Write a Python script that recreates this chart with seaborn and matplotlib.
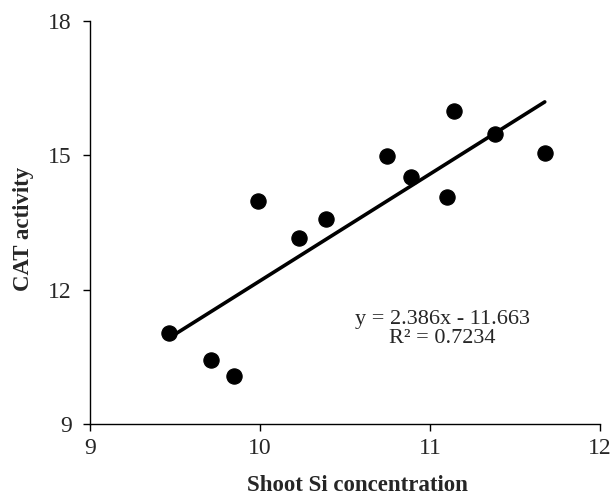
import numpy as np
import pandas as pd
import matplotlib
matplotlib.use('Agg')
import matplotlib.pyplot as plt
import seaborn as sns

# data
shoot_si = [9.465, 9.71, 9.85, 9.99, 10.23, 10.39, 10.745, 10.89, 11.10, 11.14, 11.38, 11.675]
cat_act = [11.03, 10.43, 10.08, 13.99, 13.15, 13.57, 14.99, 14.52, 14.08, 16.00, 15.47, 15.05]
slope, intercept, r2 = 2.386, -11.663, 0.7234
x_ticks = [9, 10, 11, 12]
y_ticks = [9, 12, 15, 18]

df = pd.DataFrame({'si': shoot_si, 'cat': cat_act})

sns.set_style('ticks')
plt.rcParams['font.family'] = ['Liberation Serif', 'DejaVu Serif']

fig = plt.figure(figsize=(6.13, 4.98), dpi=100)
ax = fig.add_axes([0.1468, 0.1486, 0.832, 0.8092])

# trend line from the reported equation, over the data range
line_x = np.array([min(shoot_si), max(shoot_si)])
sns.lineplot(x=line_x, y=slope * line_x + intercept, ax=ax, color='black', lw=2.6)
sns.scatterplot(data=df, x='si', y='cat', ax=ax, color='black', s=120, edgecolor='black', zorder=3)

ax.text(11.074, 11.12, f'y = {slope}x - {abs(intercept)}\nR² = {r2}', ha='center', va='center',
        fontsize=16, linespacing=1.05)

ax.set_xlim(9, 12)
ax.set_ylim(9, 18)
ax.set_xticks(x_ticks)
ax.set_yticks(y_ticks)
ax.tick_params(labelsize=17, length=5, width=1, color='black', direction='out')
ax.tick_params(axis='x', pad=5)
ax.tick_params(axis='y', pad=8)
ax.set_xlabel('Shoot Si concentration', fontsize=16.5, fontweight='bold')
ax.set_ylabel('CAT activity', fontsize=16.5, fontweight='bold')
ax.xaxis.set_label_coords(0.525, -0.1266)
ax.yaxis.set_label_coords(-0.109, 0.485)
for sp in ['top', 'right']:
    ax.spines[sp].set_visible(False)
for sp in ['left', 'bottom']:
    ax.spines[sp].set_color('black')
    ax.spines[sp].set_linewidth(1)

fig.savefig('out.png', dpi=100)
